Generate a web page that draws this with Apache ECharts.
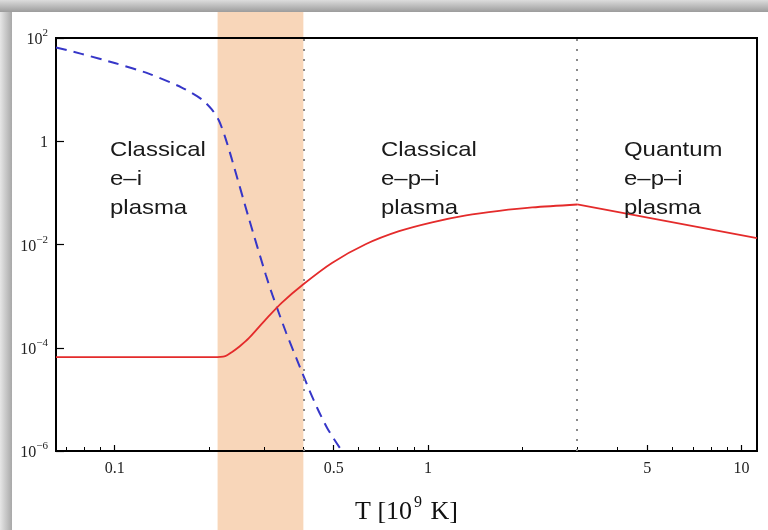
<!DOCTYPE html>
<html>
<head>
<meta charset="utf-8">
<script src="https://cdn.jsdelivr.net/npm/echarts@6/dist/echarts.min.js"></script>
<style>
  html, body { margin: 0; padding: 0; background: #ffffff; }
  #chart { width: 768px; height: 530px; }
</style>
</head>
<body>
<div id="chart"></div>
<script>
// Temperature in units of 10^9 K
const tempBlue = [0.065, 0.0784, 0.1007, 0.1284, 0.1637, 0.1897, 0.2041, 0.2149, 0.2246, 0.2364,
                  0.268, 0.3035, 0.3182, 0.3527, 0.3823, 0.4115, 0.4428, 0.4768, 0.5222, 0.5335];
const valueBlue = [65.7, 49.3, 32.4, 20.4, 10.96, 6.46, 4.15, 2.55, 1.26, 0.455,
                   0.0321, 0.00259, 1.08e-3, 1.93e-4, 5.7e-5, 1.89e-5, 6.8e-6, 2.77e-6, 1.16e-6, 1e-6];

// Red curve: rising branch up to the peak, then the falling branch
const tempRedRise = [0.065, 0.1284, 0.2071, 0.2254, 0.2364, 0.2508, 0.268, 0.3035, 0.3417, 0.4018,
                     0.4935, 0.634, 0.808, 1.03, 1.322, 1.686, 2.149, 2.99];
const valueRedRise = [6.6e-5, 6.6e-5, 6.6e-5, 6.9e-5, 8.2e-5, 1.07e-4, 1.53e-4, 3.54e-4, 7.5e-4, 1.74e-3,
                      4.4e-3, 0.0102, 0.0181, 0.0269, 0.0366, 0.0448, 0.0522, 0.0596];
const tempRedFall = [2.99, 11.2];
const valueRedFall = [0.0596, 0.0133];

// Regime boundaries and the shaded transition band
const boundaries = [0.40, 2.99];
const band = [0.213, 0.40];

// Axis ticks
const xMajorTicks = [0.1, 0.5, 1, 5, 10];
const xMinorTicks = [0.07, 0.08, 0.09, 0.2, 0.3, 0.4, 0.6, 0.7, 0.8, 0.9, 2, 3, 4, 6, 7, 8, 9];
const yTicks = [1e-6, 1e-4, 1e-2, 1, 1e2];

const regionLabels = [
  'Classical\ne\u2013i\nplasma',
  'Classical\ne\u2013p\u2013i\nplasma',
  'Quantum\ne\u2013p\u2013i\nplasma'
];

const serif = '"Liberation Serif", "DejaVu Serif", serif';
const sans = '"Liberation Sans", Arial, sans-serif';

const chart = echarts.init(document.getElementById('chart'));

function zip(xs, ys) { return xs.map((x, i) => [x, ys[i]]); }

function yLabel(v) {
  const e = Math.round(Math.log10(v));
  if (e === 0) return '{b|1}';
  return '{b|10}{s|' + (e < 0 ? '\u2212' + (-e) : e) + '}';
}

const labelRich = {
  b: { fontFamily: serif, fontSize: 16, color: '#222', lineHeight: 20, verticalAlign: 'bottom' },
  s: { fontFamily: serif, fontSize: 11, color: '#222', lineHeight: 20, verticalAlign: 'top', padding: [0, 0, 6, 0] }
};

const redStyle = { color: '#e42b2b', width: 1.8 };

chart.setOption({
  animation: false,
  grid: { left: 56, right: 11, top: 38, bottom: 75, show: true, borderColor: '#000', borderWidth: 2, backgroundColor: 'transparent' },
  xAxis: [
    {
      type: 'log', logBase: 10, min: 0.065, max: 11.2,
      position: 'bottom',
      name: '{t|T [10}{sup|9}{t| K]}',
      nameLocation: 'middle', nameGap: 44,
      nameTextStyle: {
        rich: {
          t: { fontFamily: serif, fontSize: 26, color: '#111', lineHeight: 30, verticalAlign: 'bottom' },
          sup: { fontFamily: serif, fontSize: 16, color: '#111', lineHeight: 30, verticalAlign: 'top', padding: [0, 2, 10, 2] }
        }
      },
      axisLine: { show: true, lineStyle: { color: '#000', width: 2 } },
      axisTick: { show: true, inside: true, length: 6, lineStyle: { color: '#000', width: 1.2 }, customValues: xMajorTicks },
      axisLabel: { customValues: xMajorTicks, margin: 10, fontFamily: serif, fontSize: 16, color: '#222',
                   formatter: v => String(+v.toPrecision(3)) },
      splitLine: { show: false }, minorTick: { show: false }
    },
    {
      type: 'log', logBase: 10, min: 0.065, max: 11.2,
      position: 'bottom', gridIndex: 0,
      axisLine: { show: false },
      axisTick: { show: true, inside: true, length: 4, lineStyle: { color: '#000', width: 1 }, customValues: xMinorTicks },
      axisLabel: { show: false },
      splitLine: { show: false }
    }
  ],
  yAxis: {
    type: 'log', logBase: 10, min: 1e-6, max: 1e2,
    axisLine: { show: true, lineStyle: { color: '#000', width: 2 } },
    axisTick: { show: true, inside: true, length: 8, lineStyle: { color: '#000', width: 1.2 }, customValues: yTicks },
    axisLabel: { customValues: yTicks, margin: 8, formatter: yLabel, rich: labelRich },
    splitLine: { show: false }
  },
  series: [
    {
      name: 'blue', type: 'line', data: zip(tempBlue, valueBlue),
      showSymbol: false, smooth: 0.25, z: 3,
      lineStyle: { color: '#3636c8', width: 2, type: [11, 7] }
    },
    {
      name: 'red rise', type: 'line', data: zip(tempRedRise, valueRedRise),
      showSymbol: false, smooth: 0.3, z: 4,
      lineStyle: redStyle,
      markLine: {
        silent: true, symbol: 'none', label: { show: false },
        lineStyle: { color: '#8a8a8a', width: 2, type: [2, 8] },
        data: boundaries.map(x => ({ xAxis: x }))
      }
    },
    {
      name: 'red fall', type: 'line', data: zip(tempRedFall, valueRedFall),
      showSymbol: false, smooth: false, z: 4,
      lineStyle: redStyle
    }
  ]
});

// Shaded transition band spanning the full page height, plus the page frame shading
const bx0 = chart.convertToPixel({ xAxisIndex: 0 }, band[0]);
const bx1 = chart.convertToPixel({ xAxisIndex: 0 }, band[1]);
const labelPos = [[110, 136], [381, 136], [624, 136]];

chart.setOption({
  graphic: [
    {
      type: 'rect', z: -1, silent: true,
      shape: { x: bx0, y: 12, width: bx1 - bx0, height: 530 - 12 },
      style: { fill: '#f8d6b9' }
    },
    {
      type: 'rect', z: -1, silent: true,
      shape: { x: 0, y: 0, width: 768, height: 12 },
      style: { fill: new echarts.graphic.LinearGradient(0, 0, 0, 1, [
        { offset: 0, color: '#dcdcdc' }, { offset: 1, color: '#9c9c9c' }]) }
    },
    {
      type: 'rect', z: -1, silent: true,
      shape: { x: 0, y: 12, width: 12, height: 518 },
      style: { fill: new echarts.graphic.LinearGradient(0, 0, 1, 0, [
        { offset: 0, color: '#e6e6e6' }, { offset: 1, color: '#a8a8a8' }]) }
    }
  ].concat(regionLabels.map((t, i) => ({
    type: 'text', z: 10, silent: true,
    x: labelPos[i][0], y: labelPos[i][1],
    scaleX: 1.14,
    style: { text: t, fontFamily: sans, fontSize: 21, lineHeight: 29, fill: '#1a1a1a', align: 'left', verticalAlign: 'top' }
  })))
});
</script>
</body>
</html>
